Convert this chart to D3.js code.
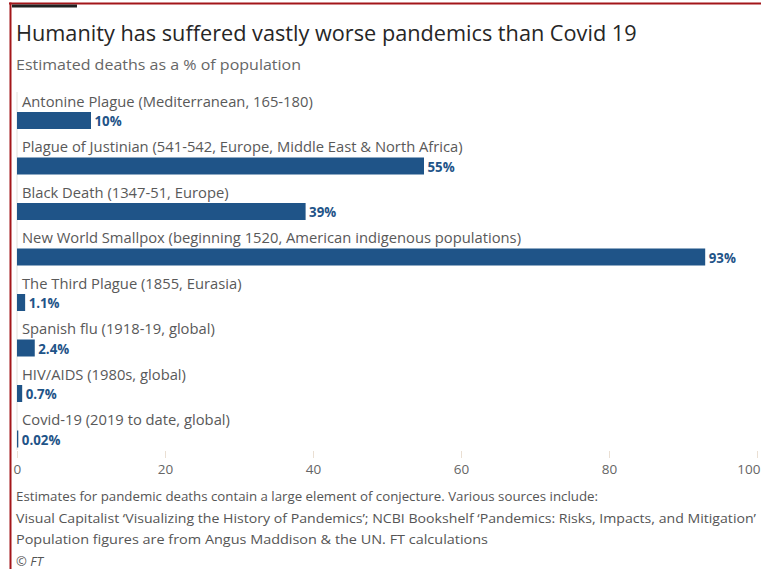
<!DOCTYPE html>
<html>
<head>
<meta charset="utf-8">
<script src="https://cdn.jsdelivr.net/npm/d3@7"></script>
<style>
  html, body { margin: 0; padding: 0; background: #fff; }
  svg { display: block; font-family: "Open Sans", "Noto Sans", sans-serif; }
</style>
</head>
<body>
<svg id="chart" width="761" height="569"></svg>
<script>
// Pandemic death tolls, estimated as % of the affected population
const pandemics = [
  "Antonine Plague (Mediterranean, 165-180)",
  "Plague of Justinian (541-542, Europe, Middle East & North Africa)",
  "Black Death (1347-51, Europe)",
  "New World Smallpox (beginning 1520, American indigenous populations)",
  "The Third Plague (1855, Eurasia)",
  "Spanish flu (1918-19, global)",
  "HIV/AIDS (1980s, global)",
  "Covid-19 (2019 to date, global)"
];
const deathShare = [10, 55, 39, 93, 1.1, 2.4, 0.7, 0.02];
const valueLabels = ["10%", "55%", "39%", "93%", "1.1%", "2.4%", "0.7%", "0.02%"];
const xTicks = [0, 20, 40, 60, 80, 100];

const title = "Humanity has suffered vastly worse pandemics than Covid 19";
const subtitle = "Estimated deaths as a % of population";
const notes = [
  "Estimates for pandemic deaths contain a large element of conjecture. Various sources include:",
  "Visual Capitalist \u2018Visualizing the History of Pandemics\u2019; NCBI Bookshelf \u2018Pandemics: Risks, Impacts, and Mitigation\u2019",
  "Population figures are from Angus Maddison & the UN. FT calculations",
  "\u00A9 FT"
];

const svg = d3.select("#chart");
const blue = "#1f5488";

// frame: red rule on top and left, short black tab
svg.append("rect").attr("x", 9).attr("y", 2.5).attr("width", 752).attr("height", 2).attr("fill", "#a3161a");
svg.append("rect").attr("x", 9.5).attr("y", 2.5).attr("width", 2).attr("height", 567).attr("fill", "#a3161a");
svg.append("rect").attr("x", 12).attr("y", 4.5).attr("width", 65).attr("height", 3).attr("fill", "#222");

svg.append("text").attr("x", 16).attr("y", 41)
  .attr("font-size", 21.7).attr("fill", "#262626").text(title);
svg.append("text").attr("x", 16).attr("y", 69.5)
  .attr("font-size", 15).attr("fill", "#666")
  .attr("textLength", 285).attr("lengthAdjust", "spacingAndGlyphs")
  .text(subtitle);

const x = d3.scaleLinear().domain([0, 100]).range([17, 757]);
const y = d3.scaleBand().domain(pandemics).range([97, 461]).paddingInner(0).paddingOuter(0);
const barH = 17;
const barTop = d => y(d) + 15;

// faint zero line
svg.append("line")
  .attr("x1", x(0)).attr("x2", x(0)).attr("y1", 92).attr("y2", 450)
  .attr("stroke", "#e4e1dc").attr("stroke-width", 1);

const rows = svg.append("g").selectAll("g").data(pandemics).join("g");

// category labels, stretched slightly to the wider FT face
const labelScale = 1.085;
rows.append("text")
  .attr("x", 22).attr("y", d => barTop(d) - 5.5)
  .attr("font-size", 13.6).attr("fill", "#595959")
  .text(d => d)
  .each(function () {
    const w = this.getComputedTextLength();
    d3.select(this).attr("textLength", w * labelScale).attr("lengthAdjust", "spacingAndGlyphs");
  });

rows.append("rect")
  .attr("x", x(0))
  .attr("y", d => barTop(d))
  .attr("height", barH)
  .attr("width", (d, i) => Math.max(1.3, x(deathShare[i]) - x(0)))
  .attr("fill", blue);

rows.append("text")
  .attr("x", (d, i) => x(0) + Math.max(1.3, x(deathShare[i]) - x(0)) + 3.5)
  .attr("y", d => barTop(d) + 14)
  .attr("font-size", 13.3).attr("font-weight", "bold").attr("fill", blue)
  .text((d, i) => valueLabels[i]);

// x axis: small tick marks and numbers, no domain line
const axis = svg.append("g").attr("transform", "translate(0,451)")
  .call(d3.axisBottom(x).tickValues(xTicks).tickSize(7).tickPadding(6).tickFormat(d3.format("d")));
axis.select(".domain").remove();
axis.selectAll(".tick line").attr("stroke", "#eadfd3");
axis.selectAll(".tick text")
  .attr("font-size", 13.5).attr("fill", "#666")
  .attr("font-family", "\"Open Sans\", \"Noto Sans\", sans-serif");
axis.selectAll(".tick").filter(d => d === 0).select("text").attr("text-anchor", "start").attr("dx", -4);
// the last tick runs against the right edge of the panel
axis.selectAll(".tick").filter(d => d === 100).select("text").attr("text-anchor", "end").attr("dx", 3);

// source notes
const noteWidths = [582, 740, 472, null];
svg.append("g").selectAll("text").data(notes).join("text")
  .attr("x", 16).attr("y", (d, i) => 501 + i * 21.5)
  .attr("font-size", 13).attr("fill", "#555")
  .attr("font-style", (d, i) => i === 3 ? "italic" : null)
  .each(function (d, i) {
    if (noteWidths[i]) d3.select(this).attr("textLength", noteWidths[i]).attr("lengthAdjust", "spacingAndGlyphs");
  })
  .text(d => d);
</script>
</body>
</html>
